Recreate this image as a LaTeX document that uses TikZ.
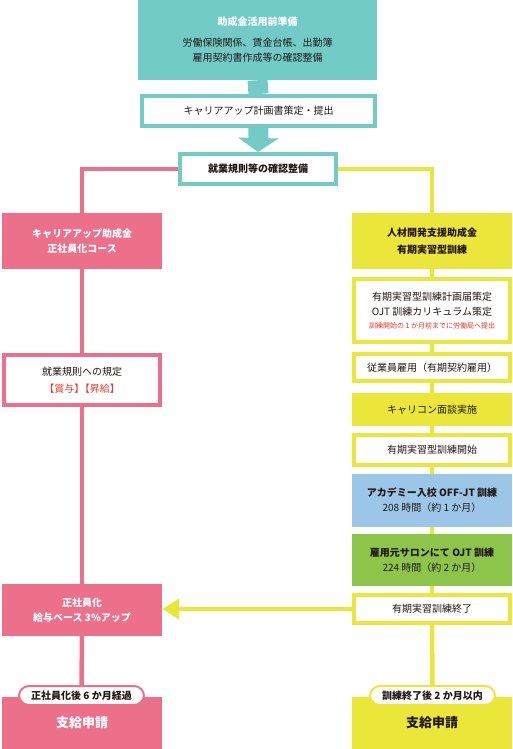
\documentclass[tikz,border=0pt]{standalone}
\usepackage{fontspec}
\setmainfont{Noto Sans CJK JP}
\usetikzlibrary{positioning,arrows.meta}
\definecolor{hsTeal}{RGB}{114,203,199}
\definecolor{hsPink}{RGB}{236,112,137}
\definecolor{hsYellow}{RGB}{235,230,58}
\definecolor{hsBlue}{RGB}{156,198,232}
\definecolor{hsGreen}{RGB}{141,196,74}
\definecolor{hsRed}{RGB}{232,56,40}
\definecolor{hsText}{RGB}{35,24,21}
\tikzset{
    base/.style={font=\fontsize{10pt}{15pt}\selectfont, align=center, text=hsText, inner sep=0pt},
    filled/.style={base, rectangle, fill=#1},
    framed/.style={base, rectangle, fill=white, draw=#1, line width=4pt},
    heading/.style={font=\bfseries\fontsize{10pt}{15pt}\selectfont},
    apply/.style={font=\bfseries\fontsize{13pt}{15pt}\selectfont},
    pill/.style={base, rectangle, rounded corners=10pt, fill=white, draw=#1, line width=2pt,
                 font=\bfseries\fontsize{10pt}{11pt}\selectfont, minimum width=125pt, minimum height=19pt},
    wire/.style={line width=4.5pt, color=#1}
}

\begin{document}
\begin{tikzpicture}[x=1pt,y=-1pt]
  \useasboundingbox (0,0) rectangle (513,749);

  % Preparation
  \node[filled=hsTeal, minimum width=239pt, minimum height=80pt] (prep) at (257.5,40)
    {{\color{white}\bfseries 助成金活用前準備}\\[6pt]労働保険関係、賃金台帳、出勤簿\\雇用契約書作成等の確認整備};
  \node[framed=hsTeal, minimum width=233pt, minimum height=30pt] (plan) at (258.5,111) {キャリアアップ計画書策定・提出};
  \node[framed=hsTeal, heading, minimum width=156pt, minimum height=30pt] (confirm) at (258,169) {就業規則等の確認整備};
  \draw[hsTeal, line width=20pt] (prep.south) -- (plan.north);
  \draw[hsTeal, line width=20pt, -{Triangle[width=40pt,length=14pt]}] (plan.south) -- (confirm.north);

  % Career up: left column
  \node[filled=hsPink, heading, text=white, minimum width=160pt, minimum height=56pt] (career) at (82,241)
    {キャリアアップ助成金\\正社員化コース};
  \node[framed=hsPink, minimum width=156pt, minimum height=50pt] (rule) at (82,380)
    {就業規則への規定\\[2pt]{\color{hsRed}【賞与】\kern-0.45em【昇給】}};
  \node[filled=hsPink, heading, text=white, minimum width=160pt, minimum height=52pt] (raise) at (82,610)
    {正社員化\\給与ベース 3\%アップ};
  \node[filled=hsPink, apply, text=white, minimum width=160pt, minimum height=53pt] (applyL) at (82,723) {支給申請};
  \node[pill=hsPink] (waitL) at (81.5,695.5) {正社員化後 6 か月経過};

  \draw[wire=hsPink] (confirm.west) -| (career.north);
  \draw[wire=hsPink] (career.south) -- (rule.north);
  \draw[wire=hsPink] (rule.south) -- (raise.north);
  \draw[wire=hsPink] (raise.south) -- (waitL.north);

  % Training: right column
  \node[filled=hsYellow, heading, minimum width=160pt, minimum height=56pt] (grant) at (432,241)
    {人材開発支援助成金\\[2pt]有期実習型訓練};
  \node[framed=hsYellow, minimum width=156pt, minimum height=63pt] (curric) at (432,310.5)
    {有期実習型訓練計画届策定\\OJT 訓練カリキュラム策定\\[-2pt]{\color{hsRed}\fontsize{7pt}{8pt}\selectfont 訓練開始の１か月前までに労働局へ提出}};
  \node[framed=hsYellow, minimum width=156pt, minimum height=27pt] (hire) at (432,367.5) {従業員雇用（有期契約雇用）};
  \node[filled=hsYellow, minimum width=160pt, minimum height=33pt] (consult) at (432,409.5) {キャリコン面談実施};
  \node[framed=hsYellow, minimum width=156pt, minimum height=30pt] (start) at (432,450) {有期実習型訓練開始};
  \node[filled=hsBlue, minimum width=160pt, minimum height=53pt] (offjt) at (432,500.5)
    {{\bfseries アカデミー入校 OFF-JT 訓練}\\208 時間（約 1 か月）};
  \node[filled=hsGreen, minimum width=160pt, minimum height=52pt] (ojt) at (432,560)
    {{\bfseries 雇用元サロンにて OJT 訓練}\\224 時間（約 2 か月）};
  \node[framed=hsYellow, minimum width=156pt, minimum height=28pt] (finish) at (432,609) {有期実習訓練終了};
  \node[filled=hsYellow, apply, minimum width=160pt, minimum height=53pt] (applyR) at (432,723) {支給申請};
  \node[pill=hsYellow] (waitR) at (432.5,695.5) {訓練終了後 2 か月以内};

  \draw[wire=hsYellow] (confirm.east) -| (grant.north);
  \foreach \a/\b in {grant/curric, curric/hire, hire/consult, consult/start, start/offjt,
                     offjt/ojt, ojt/finish, finish/waitR}
    \draw[wire=hsYellow] (\a.south) -- (\b.north);

  % result of training goes to the left column
  \draw[wire=hsYellow, -{Triangle[width=20pt,length=17pt]}] (finish.west) -- (finish.west -| raise.east);
\end{tikzpicture}
\end{document}
